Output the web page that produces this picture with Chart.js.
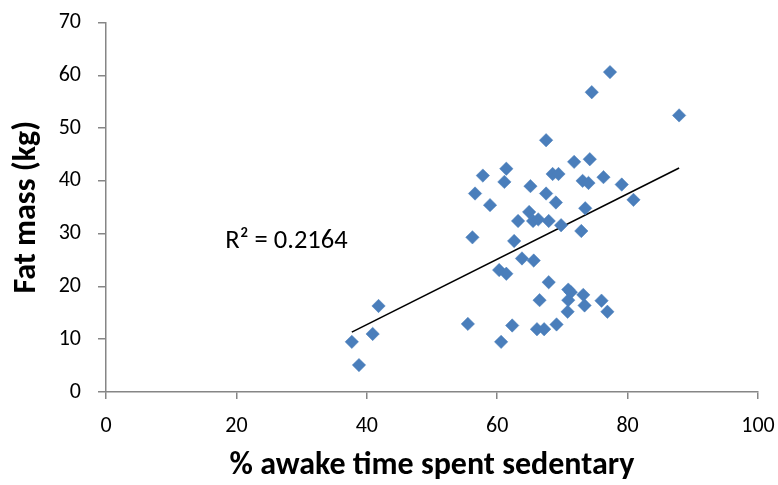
<!DOCTYPE html>
<html>
<head>
<meta charset="utf-8">
<script src="https://cdn.jsdelivr.net/npm/chart.js@4/dist/chart.umd.min.js"></script>
<style>
  html, body { margin: 0; padding: 0; background: #ffffff; }
  #wrap { width: 778px; height: 485px; position: relative; }
</style>
</head>
<body>
<div id="wrap"><canvas id="c" width="778" height="485"></canvas></div>
<script>
// % awake time spent sedentary (x) and fat mass in kg (y)
const sedentaryPct = [37.7, 38.8, 40.9, 41.8, 55.5, 56.2, 56.6, 57.8, 58.9, 60.3,
  61.4, 60.6, 61.1, 61.4, 62.3, 62.6, 63.2, 63.8, 64.9, 65.1,
  65.5, 65.6, 66.1, 66.3, 66.5, 67.2, 67.5, 67.5, 67.9, 67.9,
  68.5, 69.0, 69.1, 69.4, 69.8, 70.8, 70.9, 70.9, 71.3, 71.8,
  72.9, 73.1, 73.2, 73.4, 73.5, 74.0, 74.2, 74.5, 76.0, 76.3,
  76.9, 77.3, 79.1, 80.9, 87.9];
const fatMassKg = [9.5, 5.1, 11.0, 16.3, 12.9, 29.3, 37.6, 41.0, 35.4, 23.1,
  22.4, 9.5, 39.8, 42.3, 12.6, 28.6, 32.4, 25.3, 34.1, 39.0,
  32.4, 24.9, 11.9, 32.7, 17.4, 11.9, 47.7, 37.6, 32.4, 20.8,
  41.3, 35.9, 12.8, 41.3, 31.6, 15.2, 17.4, 19.4, 18.9, 43.6,
  30.5, 40.0, 18.4, 16.4, 34.8, 39.6, 44.1, 56.8, 17.3, 40.7,
  15.2, 60.6, 39.3, 36.4, 52.4];
const xTicks = [0, 20, 40, 60, 80, 100];
const yTicks = [0, 10, 20, 30, 40, 50, 60, 70];
const rSquaredLabel = "R\u00B2 = 0.2164";
const xTitle = "% awake time spent sedentary";
const yTitle = "Fat mass (kg)";

// least-squares trend line over the data range
const n = sedentaryPct.length;
const mx = sedentaryPct.reduce((a, b) => a + b, 0) / n;
const my = fatMassKg.reduce((a, b) => a + b, 0) / n;
let sxy = 0, sxx = 0;
for (let i = 0; i < n; i++) { sxy += (sedentaryPct[i] - mx) * (fatMassKg[i] - my); sxx += (sedentaryPct[i] - mx) ** 2; }
const slope = sxy / sxx, intercept = my - slope * mx;
const xMin = Math.min(...sedentaryPct), xMax = Math.max(...sedentaryPct);
const trend = [{ x: xMin, y: intercept + slope * xMin }, { x: xMax, y: intercept + slope * xMax }];

const points = sedentaryPct.map((x, i) => ({ x, y: fatMassKg[i] }));
const FONT = "Carlito, Calibri, Lato, 'Open Sans', sans-serif";
const AXIS = '#868686';

const labelPlugin = {
  id: 'r2label',
  afterDatasetsDraw(chart) {
    const { ctx, scales } = chart;
    ctx.save();
    ctx.font = "26.5px " + FONT;
    ctx.fillStyle = '#000000';
    ctx.textAlign = 'left';
    ctx.textBaseline = 'middle';
    ctx.fillText(rSquaredLabel, scales.x.getPixelForValue(18.3), scales.y.getPixelForValue(28.6));
    ctx.restore();
  }
};

new Chart(document.getElementById('c'), {
  type: 'scatter',
  data: {
    datasets: [
      {
        type: 'line',
        data: trend,
        borderColor: '#000000',
        borderWidth: 1.6,
        pointRadius: 0,
        fill: false,
        order: 2
      },
      {
        data: points,
        pointStyle: 'rectRot',
        pointRadius: 6.7,
        pointBorderWidth: 0.5,
        backgroundColor: '#4A7EBB',
        borderColor: '#4A7EBB',
        order: 1
      }
    ]
  },
  plugins: [labelPlugin],
  options: {
    responsive: false,
    animation: false,
    events: [],
    layout: { padding: { top: 22.5, right: 20, left: 0, bottom: 0 } },
    plugins: { legend: { display: false }, tooltip: { enabled: false } },
    scales: {
      x: {
        type: 'linear',
        min: 0, max: 100,
        afterBuildTicks: s => { s.ticks = xTicks.map(v => ({ value: v })); },
        afterFit: s => { s.height = 485 - 392; s.paddingLeft = 0; s.paddingRight = 0; },
        grid: { drawOnChartArea: false, drawTicks: true, tickLength: 7, color: AXIS, lineWidth: 1.5 },
        border: { color: AXIS, width: 1.5 },
        ticks: { color: '#000000', font: { family: FONT, size: 22 }, padding: 14 },
        title: { display: true, text: xTitle, color: '#000000', font: { family: FONT, size: 32, weight: 'bold' }, padding: { top: 0, bottom: 0 } }
      },
      y: {
        type: 'linear',
        min: 0, max: 70,
        afterBuildTicks: s => { s.ticks = yTicks.map(v => ({ value: v })); },
        afterFit: s => { s.width = 106; s.paddingTop = 0; s.paddingBottom = 0; },
        grid: { drawOnChartArea: false, drawTicks: true, tickLength: 8, color: AXIS, lineWidth: 1.5 },
        border: { color: AXIS, width: 1.5 },
        ticks: { color: '#000000', font: { family: FONT, size: 22 }, padding: 17 },
        title: { display: true, text: yTitle, color: '#000000', font: { family: FONT, size: 32, weight: 'bold' }, padding: { top: 8, bottom: 0 } }
      }
    }
  }
});
</script>
</body>
</html>
